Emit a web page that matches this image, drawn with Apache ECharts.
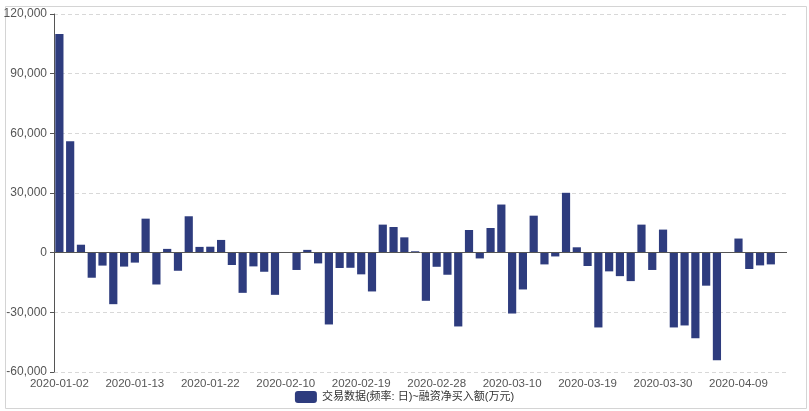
<!DOCTYPE html>
<html>
<head>
<meta charset="utf-8">
<script src="https://cdn.jsdelivr.net/npm/echarts@6/dist/echarts.min.js"></script>
<style>
html,body{margin:0;padding:0;background:#fff;}
#main{width:809px;height:411px;}
</style>
</head>
<body>
<div id="main"></div>
<script>
const categories = [
  '2020-01-02','2020-01-03','2020-01-06','2020-01-07','2020-01-08','2020-01-09','2020-01-10',
  '2020-01-13','2020-01-14','2020-01-15','2020-01-16','2020-01-17','2020-01-20','2020-01-21',
  '2020-01-22','2020-01-23','2020-02-03','2020-02-04','2020-02-05','2020-02-06','2020-02-07',
  '2020-02-10','2020-02-11','2020-02-12','2020-02-13','2020-02-14','2020-02-17','2020-02-18',
  '2020-02-19','2020-02-20','2020-02-21','2020-02-24','2020-02-25','2020-02-26','2020-02-27',
  '2020-02-28','2020-03-02','2020-03-03','2020-03-04','2020-03-05','2020-03-06','2020-03-09',
  '2020-03-10','2020-03-11','2020-03-12','2020-03-13','2020-03-16','2020-03-17','2020-03-18',
  '2020-03-19','2020-03-20','2020-03-23','2020-03-24','2020-03-25','2020-03-26','2020-03-27',
  '2020-03-30','2020-03-31','2020-04-01','2020-04-02','2020-04-03','2020-04-07','2020-04-08',
  '2020-04-09','2020-04-10','2020-04-13','2020-04-14','2020-04-15'
];
const seriesName = '交易数据(频率: 日)~融资净买入额(万元)';
const netBuy = [
  110000, 56000, 4000, -12600, -6500, -25900, -7000,
  -5000, 17100, -16000, 1900, -9100, 18300, 2900,
  3000, 6400, -6200, -20200, -6900, -9600, -21200,
  0, -8700, 1400, -5400, -36100, -7700, -7600,
  -10900, -19500, 14100, 12900, 7700, 700, -24200,
  -7100, -11100, -37100, 11400, -2900, 12400, 24200,
  -30600, -18500, 18600, -5900, -1900, 30100, 2700,
  -6700, -37600, -9400, -11800, -14300, 14100, -8700,
  11600, -37600, -36600, -43000, -16600, -54100, 0,
  7100, -8200, -6400, -5900, 0
];
const yMin = -60000, yMax = 120000, yStep = 30000;

const chart = echarts.init(document.getElementById('main'), null, {renderer: 'canvas'});
const fontFam = '"Liberation Sans", Arial, "Noto Sans CJK SC", sans-serif';
chart.setOption({
  animation: false,
  backgroundColor: '#fff',
  textStyle: {fontFamily: fontFam},
  graphic: [{
    type: 'rect', left: 3, top: 4, silent: true, z: -10,
    shape: {width: 801, height: 402},
    style: {fill: 'none', stroke: '#d4d4d4', lineWidth: 1}
  }],
  grid: {left: 54, right: 22, top: 14, bottom: 39, containLabel: false},
  legend: {
    bottom: 3, left: 'center',
    itemWidth: 22, itemHeight: 12, itemGap: 10,
    icon: 'roundRect',
    textStyle: {fontSize: 11, color: '#333', fontFamily: fontFam},
    data: [seriesName]
  },
  xAxis: {
    type: 'category',
    data: categories,
    boundaryGap: true,
    axisLine: {show: false, onZero: false},
    axisTick: {show: false},
    axisLabel: {interval: 6, fontSize: 11.5, color: '#555', margin: 6, fontFamily: fontFam},
    splitLine: {show: false}
  },
  yAxis: {
    type: 'value',
    min: yMin, max: yMax, interval: yStep,
    axisLine: {show: true, lineStyle: {color: '#555'}},
    axisTick: {show: true, length: 4, lineStyle: {color: '#555'}},
    axisLabel: {
      fontSize: 12, color: '#555', margin: 7, fontFamily: fontFam,
      formatter: v => v.toLocaleString('en-US')
    },
    splitLine: {show: true, lineStyle: {color: '#d8d8d8', type: [4, 3]}}
  },
  series: [{
    name: seriesName,
    type: 'bar',
    data: netBuy,
    barCategoryGap: '24%',
    itemStyle: {color: '#2E3C7E'},
    markLine: {
      silent: true, symbol: 'none', animation: false,
      label: {show: false},
      lineStyle: {color: '#555', width: 1, type: 'solid'},
      data: [{yAxis: 0}]
    }
  }]
});
</script>
</body>
</html>
